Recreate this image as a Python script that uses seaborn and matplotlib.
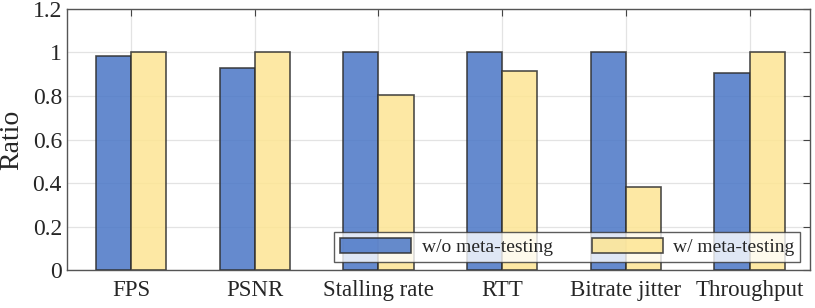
import numpy as np
import pandas as pd
import matplotlib
matplotlib.use("Agg")
import matplotlib.pyplot as plt
import seaborn as sns

# Values
metrics = ["FPS", "PSNR", "Stalling rate", "RTT", "Bitrate jitter", "Throughput"]
wo_meta = [0.984, 0.929, 1.0, 1.0, 1.0, 0.906]
w_meta = [1.0, 1.0, 0.805, 0.915, 0.382, 1.0]
series = ["w/o meta-testing", "w/ meta-testing"]

df = pd.DataFrame({
    "Metric": metrics * 2,
    "Ratio": wo_meta + w_meta,
    "Setting": [series[0]] * len(metrics) + [series[1]] * len(metrics),
})

sns.set_style("white")
plt.rcParams["font.family"] = ["Liberation Serif", "DejaVu Serif"]

fig = plt.figure(figsize=(8.15, 3.08), dpi=100)
ax = fig.add_axes([0.082, 0.123, 0.912, 0.848])

palette = {series[0]: "#4a76c6", series[1]: "#fde594"}
sns.barplot(data=df, x="Metric", y="Ratio", hue="Setting", palette=palette,
            width=0.57, gap=0, edgecolor="#2f2f2f", linewidth=1.2, alpha=0.85,
            saturation=1, ax=ax, zorder=3)

ax.set_ylim(0, 1.2)
ax.set_xlim(-0.52, 5.49)
ax.set_yticks([0, 0.2, 0.4, 0.6, 0.8, 1.0, 1.2])
ax.set_yticklabels(["0", "0.2", "0.4", "0.6", "0.8", "1", "1.2"])
ax.set_xlabel("")
ax.set_ylabel("Ratio", fontsize=20, labelpad=6)
ax.tick_params(axis="both", labelsize=17, direction="in", top=True, right=True,
               length=5, color="#444444")
ax.tick_params(axis="x", labelsize=16.5, pad=7)
ax.grid(True, color="#e3e3e3", linewidth=0.9, zorder=0)
ax.set_axisbelow(True)
for s in ax.spines.values():
    s.set_color("#555555")
    s.set_linewidth(1.0)

leg = ax.legend(loc="lower right", bbox_to_anchor=(0.987, 0.03), ncol=2,
                fontsize=14, handlelength=3.65, handleheight=0.82, columnspacing=2.0,
                handletextpad=0.55, frameon=True, fancybox=False, borderpad=0.3,
                borderaxespad=0.0, edgecolor="#333333")
leg.get_frame().set_linewidth(1.0)

fig.savefig("out.png", dpi=100)
